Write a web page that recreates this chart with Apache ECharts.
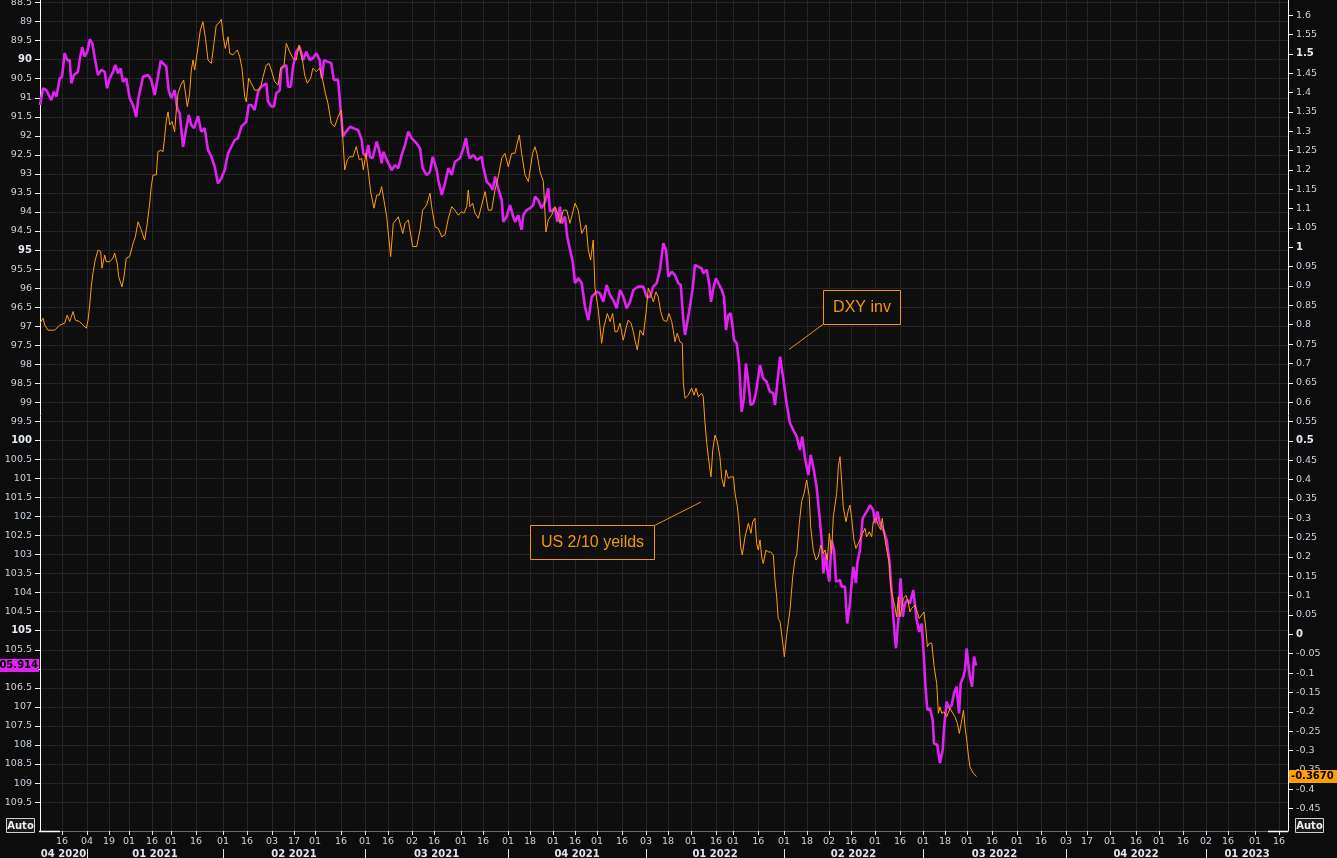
<!DOCTYPE html>
<html><head><meta charset="utf-8">
<script src="https://cdn.jsdelivr.net/npm/echarts@6/dist/echarts.min.js"></script>
<style>html,body{margin:0;padding:0;background:#0c0c0c;}#c{width:1337px;height:858px;}</style>
</head><body><div id="c"></div>
<script>
// ---------------- DATA ----------------
// x = days since start of the visible window
const dxyDays = [0,2.0,4.1,7.4,9.0,10.7,12.9,14.4,16.1,17.8,19.4,20.5,22.2,24.8,25.9,27.6,29.2,30.9,32.5,34.2,35.8,37.9,40.1,42.3,43.8,45.6,47.7,49.2,51.0,52.7,54.2,56.4,58.6,60.8,62.9,64.1,67.3,70.6,72.7,75.0,77.1,78.9,82.5,84.1,85.8,88.0,89.7,91.3,93.5,94.6,97.2,98.9,100.7,103.3,105.4,107.6,109.8,112.0,114.2,116.3,118.5,120.7,122.9,125.0,127.3,129.4,131.6,134.8,136.4,138.1,140.3,142.5,144.6,147.9,149.0,151.2,152.9,154.4,156.7,157.7,161.0,162.1,163.9,165.4,167.5,169.7,171.9,174.1,176.3,178.4,180.6,182.8,184.3,185.6,187.8,190.4,192.0,194.8,196.5,198.0,199.3,202.6,208.0,210.3,211.3,213.1,214.6,215.7,217.4,220.1,222.2,223.3,224.4,226.6,229.9,232.0,234.2,236.4,238.6,240.7,242.9,246.2,248.4,250.1,252.7,254.9,256.7,259.3,260.3,262.6,264.7,266.9,269.1,271.2,274.5,276.7,278.4,279.9,281.0,283.2,285.4,288.7,289.7,292.0,294.1,295.9,297.4,299.5,301.8,302.8,305.0,307.2,309.3,310.5,312.6,314.8,315.9,318.1,320.3,322.4,323.5,325.7,327.9,330.1,332.2,333.3,335.1,336.6,338.1,339.9,341.0,343.1,344.6,346.0,348.2,349.7,351.8,354.1,356.2,358.4,360.6,363.9,366.0,368.2,370.4,372.5,374.7,376.9,379.1,381.3,383.5,385.6,387.8,391.0,394.3,396.5,398.7,400.8,403.1,405.2,407.4,409.2,410.7,412.9,415.0,417.2,418.8,420.5,421.6,422.7,424.8,426.6,428.1,430.3,432.5,433.5,435.8,437.5,438.6,440.1,441.8,444.0,445.6,447.1,448.4,449.9,451.4,452.7,453.6,455.4,456.9,458.6,460.1,461.4,462.9,464.5,466.2,467.9,470.6,472.7,474.9,477.1,479.3,480.4,481.9,483.7,485.8,488.0,490.2,492.4,494.6,496.7,498.2,500.0,502.2,503.7,505.4,507.6,509.3,510.9,512.0,513.7,514.6,515.9,517.4,519.0,520.3,522.9,524.0,526.1,527.6,529.4,530.5,531.6,533.3,534.2,535.9,537.7,540.3,542.5,544.6,545.8,547.3,549.0,551.2,553.4,555.1,556.7,558.2,559.5,561.0,562.5,563.9,565.4,566.9,568.6,570.8,573.0,574.7,576.3,577.8,578.9,580.0,581.7,583.5,584.3,586.5,588.2,590.0,590.8,592.6,594.1,595.9,597.4,599.1,600.7,601.8,603.5,604.6,605.7,606.7,607.8,609.2,610.5,611.8];
const dxyValues = [91.19,90.75,90.80,91.06,90.84,90.97,90.49,90.45,89.83,90.01,90.01,90.62,90.40,90.32,90.01,89.67,89.92,89.79,89.46,89.57,89.96,90.40,90.27,90.32,90.75,90.49,90.32,90.14,90.36,90.23,90.58,90.49,91.01,91.19,91.50,91.06,90.45,90.40,90.53,90.93,90.45,90.03,90.18,90.80,91.01,90.80,91.28,91.41,92.29,92.02,91.45,91.72,91.80,91.48,91.89,91.80,92.37,92.55,92.81,93.25,93.12,92.90,92.46,92.29,92.11,92.06,91.76,91.63,91.19,91.19,91.32,90.84,90.71,90.62,91.10,91.23,91.23,90.88,90.80,90.23,90.14,90.71,90.71,90.18,89.79,89.66,90.01,89.79,90.01,89.96,89.83,90.01,90.49,90.01,90.05,90.09,90.53,90.53,91.32,92.02,91.93,91.76,91.85,92.11,92.46,92.55,92.24,92.55,92.59,92.15,92.46,92.72,92.42,92.63,92.90,92.77,92.85,92.50,92.24,91.89,92.06,92.20,92.33,92.85,93.03,92.94,92.55,92.90,93.16,93.55,93.25,92.85,93.03,92.68,92.59,92.33,92.06,92.46,92.59,92.50,92.63,92.55,92.81,93.21,93.29,93.42,93.07,93.38,93.69,94.26,94.12,93.82,94.12,94.26,94.08,94.47,94.08,93.95,93.90,93.82,93.60,93.69,93.90,93.73,93.38,93.99,93.95,93.90,94.26,93.86,94.30,94.12,94.65,94.91,95.31,95.87,95.74,95.87,96.49,96.84,96.23,96.09,96.14,96.36,95.92,96.18,96.31,96.53,96.05,96.23,96.53,96.36,96.05,95.96,95.96,96.23,96.23,95.96,95.87,95.52,94.82,95.00,95.70,95.57,95.66,95.87,95.92,96.84,97.23,97.19,96.49,96.00,95.39,95.44,95.48,95.61,95.52,95.92,96.36,96.00,95.74,95.92,96.05,96.23,97.10,96.71,96.66,97.01,97.36,97.45,97.98,99.25,98.89,97.98,98.46,99.07,99.03,98.76,98.02,98.37,98.46,98.72,98.76,99.07,98.50,97.80,98.37,99.03,99.55,99.73,99.90,100.25,99.90,100.47,100.91,100.38,100.69,101.22,101.92,102.62,103.49,102.97,103.40,103.71,102.62,102.88,103.71,103.67,103.84,103.84,104.81,104.28,103.75,103.32,103.75,103.23,102.88,102.05,101.87,101.70,101.83,102.18,101.87,102.18,102.35,102.62,103.14,104.02,104.89,105.46,104.72,103.62,104.63,104.28,104.19,104.28,103.93,104.72,105.03,104.81,105.77,106.56,107.08,107.04,107.35,107.96,108.00,108.48,108.13,107.61,106.86,107.04,106.95,106.64,106.47,107.17,106.38,106.21,106.03,105.46,105.86,106.21,106.47,105.68,105.914];

const spreadDays = [0,2.0,3.1,5.2,9.6,12.9,16.1,17.8,19.4,21.6,23.1,25.9,28.1,30.3,31.4,32.5,33.5,34.6,36.1,37.9,39.7,40.5,42.3,43.3,45.6,47.7,48.8,50.5,51.4,53.6,54.9,56.4,58.6,60.8,62.3,64.1,65.8,68.4,70.1,71.7,72.7,73.9,76.0,77.1,78.9,80.4,81.5,82.6,83.7,84.8,86.3,88.0,89.1,90.2,92.0,93.9,96.3,97.8,98.9,100.0,101.1,103.3,104.8,106.5,108.3,109.8,112.0,113.7,115.2,116.8,118.5,119.8,121.1,122.9,124.0,126.1,129.0,130.5,132.0,133.8,134.8,136.4,138.1,140.3,142.5,144.6,145.8,147.9,149.7,151.2,153.4,155.6,157.3,159.5,161.0,162.1,163.2,165.4,167.5,169.3,171.9,173.0,174.7,176.9,178.4,180.6,182.8,185.0,186.5,188.2,190.4,192.6,194.8,196.9,198.0,199.2,200.9,202.4,204.6,206.7,208.7,210.3,211.3,213.1,214.6,216.1,218.3,220.1,221.8,223.3,224.8,226.6,227.6,229.2,230.9,232.7,234.2,235.3,237.1,238.6,240.7,241.8,243.6,246.2,248.4,250.1,252.7,254.9,256.0,258.2,260.3,262.6,264.7,266.9,269.1,271.2,273.4,275.6,277.1,278.9,279.9,281.0,282.8,284.3,286.5,288.7,290.9,293.0,295.2,297.4,299.5,301.8,303.9,306.1,308.3,310.5,311.6,313.3,314.8,317.0,319.2,320.3,322.0,323.5,325.0,326.8,329.0,330.7,332.2,334.4,336.6,338.8,339.9,342.0,344.3,346.4,349.7,351.8,354.1,356.9,358.4,359.9,361.6,362.7,364.9,367.1,368.6,370.8,372.6,374.3,375.8,377.3,379.1,381.2,383.5,384.5,386.3,387.8,388.9,390.4,392.2,394.3,395.4,396.1,397.6,399.8,400.9,402.6,404.1,405.7,407.4,409.6,411.1,412.9,413.9,415.0,416.5,418.3,419.8,420.5,421.6,423.7,425.9,427.5,428.8,430.3,432.5,433.5,434.6,435.8,436.8,437.9,438.6,439.7,441.2,442.7,444.4,445.6,447.1,448.4,449.9,451.4,453.2,454.3,455.8,456.9,458.0,459.0,460.8,463.0,464.7,465.8,467.3,468.4,469.5,470.6,471.7,472.7,474.5,476.0,477.6,479.3,480.4,481.5,482.5,483.7,484.8,485.8,486.5,488.0,490.2,492.0,493.5,494.6,496.3,497.8,499.4,501.1,502.8,503.7,505.4,507.2,508.7,510.3,512.0,513.1,514.6,515.9,517.4,518.5,519.6,520.7,521.8,522.9,524.0,525.0,526.8,528.3,529.4,530.5,532.0,533.3,534.8,535.9,537.7,539.2,540.3,542.0,543.6,544.6,546.4,547.9,549.5,550.5,552.3,553.4,555.1,556.0,557.3,558.8,559.9,561.0,562.1,564.3,566.0,567.5,568.6,569.7,571.9,573.0,574.7,576.3,577.8,579.1,580.0,581.3,582.9,584.4,586.1,587.2,588.2,589.4,590.9,592.6,594.8,596.6,598.1,599.6,600.9,602.5,603.6,604.6,605.7,606.8,607.8,610.0,612.2];
const spreadValues = [0.804,0.817,0.799,0.786,0.786,0.799,0.804,0.825,0.808,0.834,0.812,0.808,0.799,0.791,0.812,0.851,0.898,0.933,0.967,0.993,0.989,0.946,0.980,0.963,0.963,0.972,0.985,0.959,0.924,0.898,0.924,0.972,0.976,1.010,1.027,1.066,1.049,1.019,1.062,1.114,1.157,1.187,1.187,1.247,1.251,1.247,1.286,1.329,1.350,1.316,1.325,1.299,1.355,1.398,1.419,1.432,1.363,1.398,1.458,1.484,1.458,1.518,1.561,1.583,1.536,1.484,1.475,1.527,1.574,1.579,1.589,1.544,1.514,1.544,1.501,1.497,1.510,1.493,1.463,1.389,1.376,1.437,1.424,1.406,1.406,1.419,1.441,1.471,1.475,1.458,1.428,1.419,1.463,1.471,1.527,1.531,1.505,1.488,1.484,1.523,1.475,1.445,1.424,1.437,1.463,1.454,1.463,1.428,1.398,1.372,1.320,1.312,1.337,1.355,1.277,1.200,1.226,1.234,1.234,1.260,1.226,1.230,1.200,1.243,1.195,1.144,1.101,1.135,1.135,1.157,1.122,1.079,1.079,0.976,1.062,1.071,1.079,1.079,1.036,1.062,1.071,1.045,1.002,1.002,1.045,1.096,1.109,1.140,1.105,1.053,1.049,1.027,1.032,1.075,1.105,1.096,1.083,1.092,1.088,1.105,1.148,1.105,1.114,1.088,1.075,1.109,1.144,1.096,1.096,1.148,1.182,1.230,1.243,1.208,1.243,1.243,1.264,1.290,1.243,1.187,1.170,1.170,1.243,1.260,1.239,1.195,1.170,1.040,1.071,1.083,1.105,1.083,1.062,1.096,1.096,1.062,1.114,1.096,1.036,1.058,0.993,0.967,1.019,0.898,0.838,0.752,0.795,0.829,0.808,0.829,0.782,0.782,0.804,0.760,0.799,0.812,0.804,0.782,0.760,0.735,0.786,0.773,0.769,0.830,0.895,0.872,0.859,0.885,0.872,0.834,0.812,0.808,0.829,0.808,0.786,0.756,0.778,0.756,0.752,0.649,0.610,0.618,0.636,0.618,0.636,0.614,0.623,0.614,0.549,0.494,0.459,0.425,0.407,0.476,0.515,0.498,0.459,0.403,0.381,0.425,0.403,0.407,0.407,0.364,0.330,0.287,0.226,0.205,0.252,0.287,0.261,0.291,0.300,0.235,0.218,0.244,0.200,0.183,0.218,0.213,0.213,0.205,0.140,0.097,0.041,0.033,0.037,-0.032,-0.058,-0.002,0.063,0.149,0.196,0.205,0.287,0.343,0.364,0.399,0.356,0.278,0.218,0.192,0.200,0.231,0.209,0.218,0.192,0.261,0.209,0.304,0.334,0.364,0.433,0.459,0.394,0.330,0.291,0.321,0.334,0.300,0.244,0.222,0.235,0.244,0.261,0.274,0.252,0.265,0.252,0.291,0.300,0.282,0.270,0.300,0.244,0.239,0.183,0.123,0.097,0.071,0.045,0.097,0.045,0.093,0.101,0.084,0.058,0.067,0.076,0.071,0.041,0.050,0.058,0.011,-0.032,-0.023,-0.023,-0.084,-0.127,-0.204,-0.187,-0.204,-0.200,-0.213,-0.191,-0.204,-0.213,-0.230,-0.256,-0.221,-0.196,-0.239,-0.273,-0.312,-0.342,-0.359,-0.367];

const dayTicks = [14.4,30.7,45.1,58.2,73.2,85.6,102.0,119.6,135.3,151.6,166.0,179.7,196.7,212.4,227.5,243.2,257.5,275.2,289.5,305.9,320.3,335.3,349.7,364.1,380.4,396.1,410.5,425.5,441.9,453.0,469.4,486.3,501.3,515.7,530.1,545.8,562.1,577.1,591.5,605.9,622.2,638.6,654.3,670.6,684.3,699.4,716.4,731.4,747.1,762.1,776.5,794.1,809.8];
const dayTickLabels = ['16','04','19','01','16','01','16','01','16','03','17','01','16','01','16','02','16','01','16','01','18','01','16','01','16','03','18','01','16','01','16','01','18','02','16','01','16','01','18','01','16','01','16','03','17','01','16','01','16','02','16','01','16'];
const quarterBounds = [30.7,119.6,212.4,305.9,396.1,486.3,577.1,670.6,762.1];
const quarterLabels = ['04 2020','01 2021','02 2021','03 2021','04 2021','01 2022','02 2022','03 2022','04 2022','01 2023'];
const leftTickStart = 88.5, leftTickEnd = 109.5, leftTickStep = 0.5;
const rightTickStart = -0.45, rightTickEnd = 1.6, rightTickStep = 0.05;
const dxyLast = 105.914;
const spreadLast = -0.3670;
const xMin = 0, xMax = 815.7;
const leftMin = 88.432, leftMax = 110.26;
const rightMin = -0.508, rightMax = 1.639;

// --------------- BUILD ---------------
const dxyData = dxyDays.map((d, i) => [d, dxyValues[i]]);
const spreadData = spreadDays.map((d, i) => [d, spreadValues[i]]);
const leftTicks = [];
for (let v = leftTickStart; v <= leftTickEnd + 1e-9; v += leftTickStep) leftTicks.push(+v.toFixed(2));
const rightTicks = [];
for (let v = rightTickStart; v <= rightTickEnd + 1e-9; v += rightTickStep) rightTicks.push(+v.toFixed(2));
const qEdges = [xMin].concat(quarterBounds, [xMax]);
const quarterMids = quarterLabels.map((_, i) => +((qEdges[i] + qEdges[i + 1]) / 2).toFixed(2));
const dayLabelMap = new Map(dayTicks.map((t, i) => [t, dayTickLabels[i]]));
const quarterLabelMap = new Map(quarterMids.map((t, i) => [t, quarterLabels[i]]));

const FONT = 'DejaVu Sans';
const LBL = '#c9d3de';
const MAG = '#e022f2';
const ORA = '#ff9e0a';
const GRIDC = '#252525';

const chart = echarts.init(document.getElementById('c'), null, {renderer: 'canvas'});
chart.setOption({
  backgroundColor: '#0c0c0c',
  animation: false,
  grid: [{left: 40, right: 49, top: 0, bottom: 27, show: true, backgroundColor: '#0e0e0e', borderWidth: 0, outerBoundsMode: 'none', containLabel: false}],
  xAxis: [{
    type: 'value', gridIndex: 0, min: xMin, max: xMax, position: 'bottom',
    axisLine: {show: true, onZero: false, lineStyle: {color: '#6a6a6a', width: 1}},
    axisTick: {show: true, customValues: dayTicks, length: 4, inside: false, lineStyle: {color: '#e6e6e6'}},
    axisLabel: {show: true, customValues: dayTicks, margin: 6, color: LBL, fontFamily: FONT, fontSize: 9.5,
      formatter: v => dayLabelMap.get(v) || ''},
    splitLine: {show: true, lineStyle: {color: GRIDC, width: 1}}
  }, {
    type: 'value', gridIndex: 0, min: xMin, max: xMax, position: 'bottom', offset: 18,
    axisLine: {show: false, onZero: false},
    axisTick: {show: true, customValues: quarterBounds, length: 10, lineStyle: {color: '#e6e6e6'}},
    axisLabel: {show: true, customValues: quarterMids, margin: 0, color: '#dfe6ee', fontFamily: FONT, fontSize: 10, fontWeight: 'bold',
      formatter: v => quarterLabelMap.get(v) || ''},
    splitLine: {show: false}
  }],
  yAxis: [{
    type: 'value', gridIndex: 0, position: 'left', inverse: true, min: leftMin, max: leftMax,
    axisLine: {show: true, onZero: false, lineStyle: {color: '#ffffff', width: 1}},
    axisTick: {show: true, customValues: leftTicks, length: 5, lineStyle: {color: '#ffffff'}},
    axisLabel: {show: true, customValues: leftTicks, margin: 8, color: LBL, fontFamily: FONT, fontSize: 9.5,
      formatter: v => (Math.abs(v % 5) < 1e-9 ? '{b|' + v + '}' : String(+v.toFixed(1))),
      rich: {b: {fontWeight: 'bold', color: '#e4eaf0', fontFamily: FONT, fontSize: 10}}},
    splitLine: {show: true, lineStyle: {color: GRIDC, width: 1}}
  }, {
    type: 'value', gridIndex: 0, position: 'right', min: rightMin, max: rightMax,
    axisLine: {show: true, onZero: false, lineStyle: {color: '#ffffff', width: 1}},
    axisTick: {show: true, customValues: rightTicks, length: 5, lineStyle: {color: '#ffffff'}},
    axisLabel: {show: true, customValues: rightTicks, margin: 8, color: LBL, fontFamily: FONT, fontSize: 9.5,
      formatter: v => {
        const s = String(+v.toFixed(2));
        return Math.abs(v * 2 - Math.round(v * 2)) < 1e-9 ? '{b|' + s + '}' : s;
      },
      rich: {b: {fontWeight: 'bold', color: '#e4eaf0', fontFamily: FONT, fontSize: 10}}},
    splitLine: {show: false}
  }, {
    type: 'value', gridIndex: 0, position: 'left', inverse: true, min: leftMin, max: leftMax,
    axisLine: {show: false, onZero: false}, axisTick: {show: false}, splitLine: {show: false},
    axisLabel: {show: true, customValues: [dxyLast], margin: 1, formatter: v => v.toFixed(3),
      color: '#000', fontFamily: FONT, fontSize: 10, fontWeight: 'bold', backgroundColor: MAG, padding: [2, 1, 1, 2]}
  }, {
    type: 'value', gridIndex: 0, position: 'right', min: rightMin, max: rightMax,
    axisLine: {show: false, onZero: false}, axisTick: {show: false}, splitLine: {show: false},
    axisLabel: {show: true, customValues: [spreadLast], margin: 1, formatter: v => v.toFixed(4),
      color: '#000', fontFamily: FONT, fontSize: 10, fontWeight: 'bold', backgroundColor: '#ffa000', padding: [2, 6, 1, 2]}
  }],
  series: [{
    name: 'DXY inv', type: 'line', xAxisIndex: 0, yAxisIndex: 0, data: dxyData,
    symbol: 'none', showSymbol: false, smooth: false, lineStyle: {color: MAG, width: 2.6}, z: 3
  }, {
    name: 'US 2/10 yeilds', type: 'line', xAxisIndex: 0, yAxisIndex: 1, data: spreadData,
    symbol: 'none', showSymbol: false, smooth: false, lineStyle: {color: ORA, width: 1}, z: 4
  }],
  graphic: [
    {type: 'line', shape: {x1: 823.5, y1: 324, x2: 789, y2: 349.5}, style: {stroke: '#e8910c', lineWidth: 1}, z: 10},
    {type: 'rect', shape: {x: 823.5, y: 290.5, width: 77, height: 34}, style: {fill: '#0f0f0f', stroke: '#f0960f', lineWidth: 1}, z: 10},
    {type: 'text', x: 862, y: 308, style: {text: 'DXY inv', fill: '#f0960f', font: '16px "Liberation Sans"', align: 'center', verticalAlign: 'middle'}, z: 11},
    {type: 'line', shape: {x1: 654.5, y1: 525.5, x2: 701, y2: 502}, style: {stroke: '#e8910c', lineWidth: 1}, z: 10},
    {type: 'rect', shape: {x: 530.5, y: 525.5, width: 124, height: 34}, style: {fill: '#0f0f0f', stroke: '#f0960f', lineWidth: 1}, z: 10},
    {type: 'text', x: 592.5, y: 543, style: {text: 'US 2/10 yeilds', fill: '#f0960f', font: '16px "Liberation Sans"', align: 'center', verticalAlign: 'middle'}, z: 11},
    {type: 'rect', shape: {x: 6.5, y: 818.5, width: 28, height: 14}, style: {fill: '#1a1a1a', stroke: '#d0d0d0', lineWidth: 1}, z: 10},
    {type: 'text', x: 20.5, y: 826, style: {text: 'Auto', fill: '#f0f0f0', font: 'bold 10px "DejaVu Sans"', align: 'center', verticalAlign: 'middle'}, z: 11},
    {type: 'rect', shape: {x: 1295.5, y: 818.5, width: 28, height: 14}, style: {fill: '#1a1a1a', stroke: '#d0d0d0', lineWidth: 1}, z: 10},
    {type: 'text', x: 1309.5, y: 826, style: {text: 'Auto', fill: '#f0f0f0', font: 'bold 10px "DejaVu Sans"', align: 'center', verticalAlign: 'middle'}, z: 11},
    {type: 'line', shape: {x1: 39, y1: 831.5, x2: 60, y2: 831.5}, style: {stroke: '#ffffff', lineWidth: 1.5}, z: 10},
    {type: 'line', shape: {x1: 1268, y1: 831.5, x2: 1288, y2: 831.5}, style: {stroke: '#ffffff', lineWidth: 1.5}, z: 10}
  ]
});
</script>
</body></html>
